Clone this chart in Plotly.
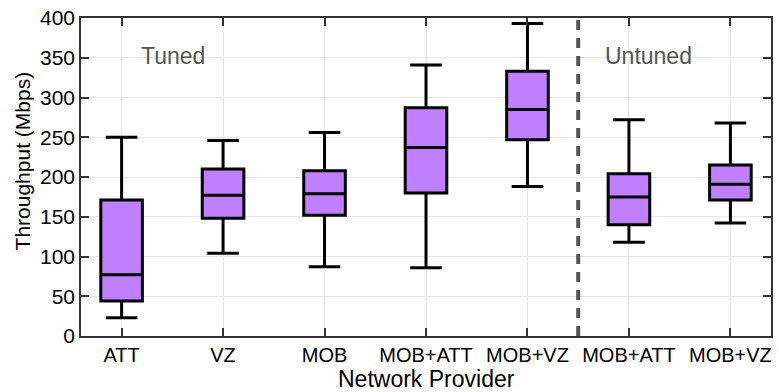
import plotly.graph_objects as go

categories = ["ATT", "VZ", "MOB", "MOB+ATT", "MOB+VZ", "MOB+ATT", "MOB+VZ"]
lower = [23, 104, 87, 86, 188, 118, 142]
q1 = [44, 148, 152, 180, 247, 140, 171]
median = [77, 177, 179, 237, 285, 175, 191]
q3 = [171, 210, 208, 287, 333, 204, 215]
upper = [250, 246, 256, 341, 393, 272, 268]
y_ticks = [0, 50, 100, 150, 200, 250, 300, 350, 400]

xpos = list(range(len(categories)))
font = "Liberation Sans, Arial, sans-serif"

fig = go.Figure()
fig.add_trace(go.Box(
    x=xpos, q1=q1, median=median, q3=q3, lowerfence=lower, upperfence=upper,
    fillcolor="#bf7fff", line=dict(color="black", width=3),
    width=0.41, whiskerwidth=0.76, boxpoints=False, showlegend=False,
    hoverinfo="skip",
))

fig.add_shape(type="line", x0=4.5, x1=4.5, y0=0, y1=400, xref="x", yref="y",
              line=dict(color="#555555", width=4, dash="10px,8px"))

fig.add_annotation(x=0.51, y=352, text="Tuned", showarrow=False,
                   font=dict(family=font, size=23, color="#555555"))
fig.add_annotation(x=5.19, y=352, text="Untuned", showarrow=False,
                   font=dict(family=font, size=23, color="#555555"))

# axis titles as annotations for exact placement
fig.add_annotation(xref="paper", yref="paper", x=-0.085, y=0.55,
                   xanchor="center", yanchor="middle",
                   text="Throughput (Mbps)", textangle=-90, showarrow=False,
                   font=dict(family=font, size=21, color="black"))
fig.add_annotation(xref="paper", yref="paper", x=0.5, y=-0.135, yanchor="middle",
                   xanchor="center",
                   text="Network Provider", showarrow=False,
                   font=dict(family=font, size=23, color="black"))

fig.update_layout(
    width=779, height=392,
    margin=dict(l=81, r=6, t=16, b=56),
    plot_bgcolor="white", paper_bgcolor="white",
    font=dict(family=font, size=20, color="black"),
    xaxis=dict(
        range=[-0.4, 6.4], tickvals=xpos, ticktext=categories,
        ticks="inside", ticklen=8, tickwidth=1.5, tickcolor="#333",
        showline=True, linecolor="#333", linewidth=1.5, mirror="ticks",
        showgrid=True, gridcolor="#e6e6e6", gridwidth=1, zeroline=False,
        tickfont=dict(size=20),
    ),
    yaxis=dict(
        range=[0, 400], tickvals=y_ticks,
        ticks="inside", ticklen=8, tickwidth=1.5, tickcolor="#333",
        showline=True, linecolor="#333", linewidth=1.5, mirror="ticks",
        showgrid=True, gridcolor="#e6e6e6", gridwidth=1, zeroline=False,
        tickfont=dict(size=21),
    ),
)

fig.write_html("out.html")
